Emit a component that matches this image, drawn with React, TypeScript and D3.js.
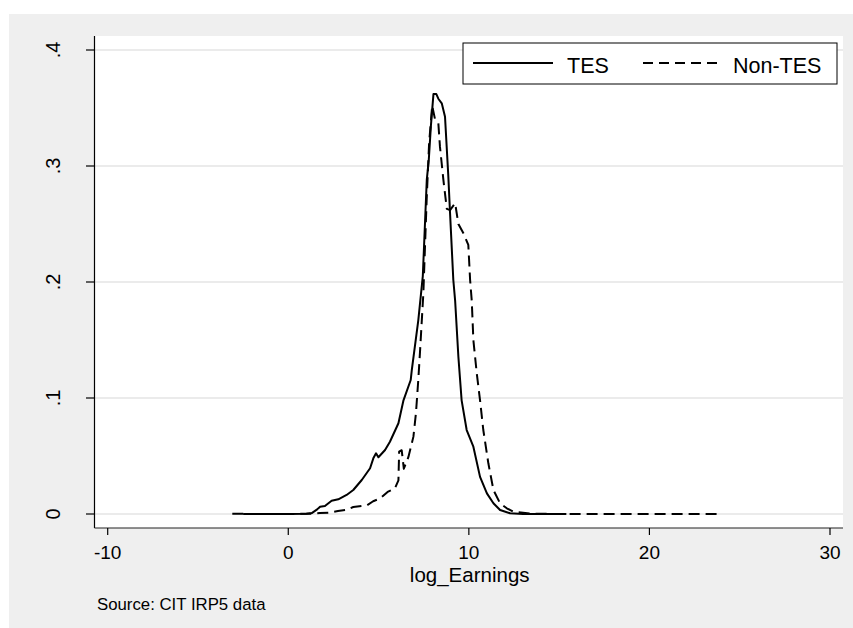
import React from 'react';
import * as d3 from 'd3';

const xTicks = [-10, 0, 10, 20, 30];
const yTicks = [0, 0.1, 0.2, 0.3, 0.4];
const yTickLabels = ['0', '.1', '.2', '.3', '.4'];
const seriesNames = ['TES', 'Non-TES'];
const xTitle = 'log_Earnings';
const note = 'Source: CIT IRP5 data';

const tesX = [-2.5, -1, 0, 1, 1.3, 1.6, 1.76, 2.03, 2.4, 2.77, 3.23, 3.6, 4.07, 4.53, 4.71, 4.86, 4.99, 5.36, 5.63, 6.1, 6.38, 6.78, 6.84, 7.2, 7.45, 7.67, 7.78, 7.9, 8.04, 8.2, 8.31, 8.5, 8.68, 8.86, 8.96, 9.14, 9.24, 9.42, 9.6, 9.88, 10.25, 10.62, 11.0, 11.36, 11.73, 12.28, 13.0, 15.4];
const tesY = [0, 0, 0, 0.0003, 0.0008, 0.004, 0.0063, 0.0069, 0.0115, 0.0127, 0.0164, 0.0207, 0.0293, 0.0394, 0.048, 0.0523, 0.0489, 0.0552, 0.0623, 0.0782, 0.098, 0.1155, 0.124, 0.167, 0.205, 0.288, 0.305, 0.335, 0.362, 0.362, 0.358, 0.354, 0.3425, 0.292, 0.259, 0.2017, 0.184, 0.1356, 0.098, 0.0724, 0.058, 0.032, 0.0178, 0.0092, 0.0034, 0.0006, 0.0001, 0];

const nonX = [-3.1, -2.5, -2, 0, 1.3, 1.75, 2.3, 2.75, 3.2, 3.6, 4.36, 4.7, 5.1, 5.5, 5.9, 6.1, 6.14, 6.28, 6.4, 6.65, 6.93, 7.07, 7.2, 7.29, 7.48, 7.57, 7.67, 7.8, 7.97, 8.13, 8.31, 8.4, 8.59, 8.78, 8.96, 9.24, 9.42, 9.7, 9.97, 10.07, 10.16, 10.25, 10.44, 10.62, 10.8, 11.08, 11.36, 11.73, 12.1, 12.47, 13.5, 15, 23.9];
const nonY = [0.0003, 0.0002, 0, 0, 0.0003, 0.0008, 0.0012, 0.0025, 0.0035, 0.006, 0.0075, 0.011, 0.0135, 0.019, 0.022, 0.029, 0.0537, 0.055, 0.039, 0.049, 0.0667, 0.0868, 0.1155, 0.1385, 0.19, 0.23, 0.2735, 0.32, 0.352, 0.34, 0.337, 0.3167, 0.288, 0.263, 0.262, 0.268, 0.25, 0.242, 0.232, 0.2017, 0.184, 0.15, 0.121, 0.098, 0.0724, 0.0437, 0.0207, 0.0092, 0.0049, 0.002, 0.0003, 0, 0];

const FONT = 'Arial, "Liberation Sans", Helvetica, sans-serif';

export default function App() {
  const x = d3.scaleLinear().domain([-10, 30]).range([107.7, 830]);
  const y = d3.scaleLinear().domain([0, 0.4]).range([514, 50]);
  const plot = { left: 94.5, right: 843, top: 36, bottom: 528 };

  const line = d3
    .line<[number, number]>()
    .x((d) => x(d[0]))
    .y((d) => y(d[1]));

  const tesPts = tesX.map((v, i) => [v, tesY[i]] as [number, number]);
  const nonPts = nonX.map((v, i) => [v, nonY[i]] as [number, number]);

  return (
    <div style={{ position: 'absolute', left: 0, top: 0 }}>
      <svg width={853} height={628} style={{ display: 'block' }} fontFamily={FONT}>
        <rect x={0} y={0} width={853} height={628} fill="#ffffff" />
        <rect x={9} y={14} width={844} height={614} fill="#efefef" />
        <rect x={plot.left} y={plot.top} width={plot.right - plot.left} height={plot.bottom - plot.top} fill="#ffffff" />

        {yTicks.map((t) => (
          <line key={'g' + t} x1={plot.left} x2={plot.right} y1={y(t)} y2={y(t)} stroke="#e4e4e4" strokeWidth={1.5} />
        ))}

        <path d={line(nonPts) || ''} fill="none" stroke="#000" strokeWidth={2} strokeDasharray="11,6" strokeLinejoin="round" />
        <path d={line(tesPts) || ''} fill="none" stroke="#000" strokeWidth={2} strokeLinejoin="round" />

        <line x1={plot.left} x2={plot.left} y1={plot.top} y2={plot.bottom} stroke="#000" strokeWidth={1.2} />
        <line x1={plot.left} x2={plot.right} y1={plot.bottom} y2={plot.bottom} stroke="#222" strokeWidth={1.2} />

        {yTicks.map((t, i) => (
          <g key={'y' + t}>
            <line x1={86} x2={plot.left} y1={y(t)} y2={y(t)} stroke="#000" strokeWidth={1.2} />
            <text transform={`translate(60,${y(t)}) rotate(-90)`} textAnchor="middle" fontSize={20} fill="#000">
              {yTickLabels[i]}
            </text>
          </g>
        ))}

        {xTicks.map((t) => (
          <g key={'x' + t}>
            <line x1={x(t)} x2={x(t)} y1={plot.bottom} y2={535} stroke="#000" strokeWidth={1.2} />
            <text x={x(t)} y={559} textAnchor="middle" fontSize={19} fill="#000">
              {t}
            </text>
          </g>
        ))}

        <text x={469.7} y={582} textAnchor="middle" fontSize={20.5} fill="#000">
          {xTitle}
        </text>

        <text x={97} y={610} fontSize={16.8} fill="#000">
          {note}
        </text>

        <rect x={463} y={43} width={374} height={41} fill="#fff" stroke="#000" strokeWidth={1} />
        <line x1={473} x2={553} y1={63} y2={63} stroke="#000" strokeWidth={2} />
        <text x={567} y={72.5} fontSize={21.5} fill="#000">{seriesNames[0]}</text>
        <line x1={643} x2={722} y1={63} y2={63} stroke="#000" strokeWidth={2} strokeDasharray="10,6" />
        <text x={733} y={72.5} fontSize={21.5} fill="#000">{seriesNames[1]}</text>
      </svg>
    </div>
  );
}
